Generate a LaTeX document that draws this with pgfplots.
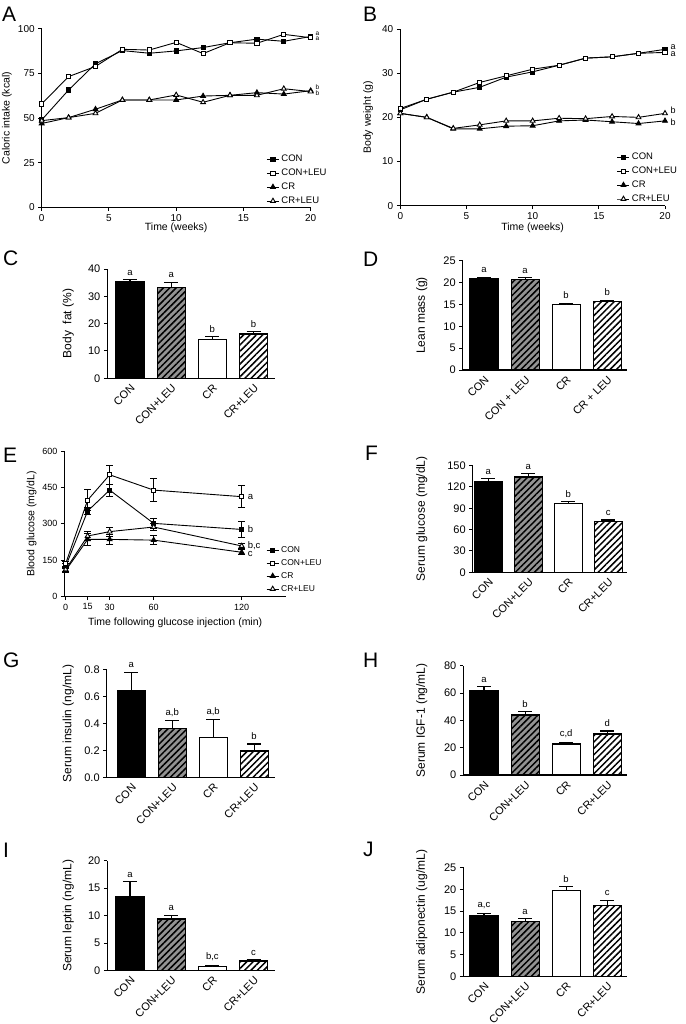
\documentclass[border=0pt]{standalone}
\usepackage{pgfplots}
\pgfplotsset{compat=1.18}
\usepackage{fontspec}
\setmainfont{Liberation Sans}
\usetikzlibrary{patterns.meta}
\newcommand{\fs}[1]{\fontsize{#1}{#1}\selectfont}
\pgfplotsset{
  gp/.style={scale only axis, axis lines=left, axis line style={line width=1.1pt,-},
    every tick/.style={black, line width=1pt}, tick align=outside, major tick length=3.5pt,
    /pgf/number format/assume math mode=true, /pgf/number format/1000 sep={},
    anchor=south west, clip=false},
  lineax/.style={gp, xmin=0, xmax=20, xtick={0,5,10,15,20}, ymin=0,
    tick label style={font=\fs{10}}, label style={font=\fs{10.5}},
    legend cell align=left,
    legend style={draw=none, fill=none, font=\fs{9.5}, anchor=north west, inner sep=0pt, row sep=1.8pt},
    legend image code/.code={\draw[mark repeat=2,mark phase=2,##1] plot coordinates {(0pt,0pt) (6pt,0pt) (12pt,0pt)};}},
  barax/.style={gp, ymin=0, xtick={0,1,2,3}, xtick style={draw=none},
    tick label style={font=\fs{11}}, label style={font=\fs{12}},
    xticklabels={CON,CON+LEU,CR,CR+LEU},
    xticklabel style={rotate=45, anchor=north east, inner sep=1pt}},
  con/.style={black, line width=0.9pt, mark=square*, mark size=2.1pt, mark options={solid, fill=black}},
  conleu/.style={black, line width=0.9pt, mark=square*, mark size=2.1pt, mark options={solid, fill=white}},
  cr/.style={black, line width=0.9pt, mark=triangle*, mark size=2.8pt, mark options={solid, fill=black}},
  crleu/.style={black, line width=0.9pt, mark=triangle*, mark size=2.8pt, mark options={solid, fill=white}},
  eb/.style={/pgfplots/error bars/y dir=both, /pgfplots/error bars/y explicit,
    /pgfplots/error bars/error bar style={line width=0.9pt},
    /pgfplots/error bars/error mark options={rotate=90, mark size=3.5pt, line width=0.9pt}},
  bb/.style={ybar, bar width=28pt, bar shift=0pt, draw=black, line width=1.1pt,
    /pgfplots/error bars/y dir=plus, /pgfplots/error bars/y explicit,
    /pgfplots/error bars/error bar style={line width=1.1pt},
    /pgfplots/error bars/error mark options={rotate=90, mark size=7pt, line width=1.1pt}},
  b1/.style={bb, fill=black},
  b2/.style={bb, preaction={fill=gray!85}, pattern={Lines[angle=45,distance=4.5pt,line width=1.5pt]}, pattern color=black},
  b3/.style={bb, fill=white},
  b4/.style={bb, preaction={fill=white}, pattern={Lines[angle=45,distance=4.5pt,line width=1.5pt]}, pattern color=black},
}
\tikzset{sig/.style={anchor=south, font=\fs{9.5}, inner sep=0pt, yshift=4pt},
  panel/.style={anchor=base west, font=\fs{21}, inner sep=0pt}}
\begin{document}
\begin{tikzpicture}
\useasboundingbox (0,0) rectangle (685pt,-1024pt);
% ---------------- A
\begin{axis}[lineax, at={(41.7pt,-207.3pt)}, width=269pt, height=178.3pt, ymax=100, ytick={0,25,50,75,100},
  ylabel={Caloric intake (kcal)}, xlabel={Time (weeks)},
  ylabel style={at={(axis description cs:-0.129,0.5)},anchor=center},
  xlabel style={at={(axis description cs:0.5,-0.116)},anchor=center},
  legend style={at={(0.835,0.305)}}]
\addplot[con] coordinates {(0,49) (2,65.8) (4,80.5) (6,87.9) (8,86.4) (10,87.7) (12,89.6) (14,92.3) (16,94.3) (18,93.1) (20,95.8)};
\addplot[conleu] coordinates {(0,58) (2,73.3) (4,79) (6,88.6) (8,88.2) (10,92.5) (12,86.2) (14,92.3) (16,92) (18,97) (20,95.1)};
\addplot[cr] coordinates {(0,47) (2,50.3) (4,55) (6,60.2) (8,60.2) (10,60.2) (12,62.4) (14,62.8) (16,64.3) (18,63.5) (20,65.4)};
\addplot[crleu] coordinates {(0,48.6) (2,50.3) (4,52.7) (6,60.2) (8,60.2) (10,63) (12,58.9) (14,62.8) (16,62.8) (18,66.5) (20,64.9)};
\legend{CON,CON+LEU,CR,CR+LEU}
\node[font=\fs{6.5}, anchor=west, inner sep=0pt] at (axis cs:20.35,97.3) {a};
\node[font=\fs{6.5}, anchor=west, inner sep=0pt] at (axis cs:20.35,94.3) {a};
\node[font=\fs{6.5}, anchor=west, inner sep=0pt] at (axis cs:20.35,67.3) {b};
\node[font=\fs{6.5}, anchor=west, inner sep=0pt] at (axis cs:20.35,64.0) {b};
\end{axis}
% ---------------- B
\begin{axis}[lineax, at={(400.3pt,-205.7pt)}, width=264.7pt, height=176.7pt, ymax=40, ytick={0,10,20,30,40},
  ylabel={Body weight (g)}, xlabel={Time (weeks)},
  ylabel style={at={(axis description cs:-0.121,0.5)},anchor=center},
  xlabel style={at={(axis description cs:0.5,-0.126)},anchor=center},
  legend style={at={(0.818,0.31)}}]
\addplot[con] coordinates {(0,21.7) (2,24.1) (4,25.7) (6,26.8) (8,29.1) (10,30.3) (12,31.8) (14,33.4) (16,33.7) (18,34.5) (20,35.4)};
\addplot[conleu] coordinates {(0,22.0) (2,24.1) (4,25.7) (6,27.9) (8,29.4) (10,30.9) (12,31.8) (14,33.4) (16,33.7) (18,34.5) (20,34.7)};
\addplot[cr] coordinates {(0,20.9) (2,20.0) (4,17.4) (6,17.4) (8,18.0) (10,18.1) (12,19.2) (14,19.4) (16,19.0) (18,18.6) (20,19.2)};
\addplot[crleu] coordinates {(0,20.9) (2,20.0) (4,17.5) (6,18.3) (8,19.2) (10,19.2) (12,19.8) (14,19.7) (16,20.2) (18,20.0) (20,20.9)};
\legend{CON,CON+LEU,CR,CR+LEU}
\node[font=\fs{9}, anchor=west, inner sep=0pt] at (axis cs:20.4,36.0) {a};
\node[font=\fs{9}, anchor=west, inner sep=0pt] at (axis cs:20.4,34.3) {a};
\node[font=\fs{9}, anchor=west, inner sep=0pt] at (axis cs:20.4,21.5) {b};
\node[font=\fs{9}, anchor=west, inner sep=0pt] at (axis cs:20.4,18.9) {b};
\end{axis}
% ---------------- C
\begin{axis}[barax, at={(107.3pt,-378.3pt)}, width=167.7pt, height=109.3pt, xmin=-0.55, xmax=3.52,
  ymax=40, ytick={0,10,20,30,40}, ylabel={Body\ \ fat (\%)},
  ylabel style={at={(axis description cs:-0.233,0.5)},anchor=center}]
\addplot[b1] coordinates {(0,35.4) +- (0,0.8)};
\addplot[b2] coordinates {(1,33.2) +- (0,2.0)};
\addplot[b3] coordinates {(2,14.3) +- (0,0.9)};
\addplot[b4] coordinates {(3,16.2) +- (0,0.8)};
\node[sig] at (axis cs:0,36.2) {a};
\node[sig] at (axis cs:1,35.2) {a};
\node[sig] at (axis cs:2,15.2) {b};
\node[sig] at (axis cs:3,17.0) {b};
\end{axis}
% ---------------- D
\begin{axis}[barax, at={(462.7pt,-370pt)}, width=164.6pt, height=109.3pt, xmin=-0.519, xmax=3.49,
  ymax=25, ytick={0,5,10,15,20,25}, ylabel={Lean mass (g)},
  xticklabels={CON,CON + LEU,CR,CR + LEU},
  ylabel style={at={(axis description cs:-0.249,0.5)},anchor=center}]
\addplot[b1] coordinates {(0,20.9) +- (0,0.35)};
\addplot[b2] coordinates {(1,20.8) +- (0,0.3)};
\addplot[b3] coordinates {(2,15.0) +- (0,0.3)};
\addplot[b4] coordinates {(3,15.7) +- (0,0.25)};
\node[sig] at (axis cs:0,21.25) {a};
\node[sig] at (axis cs:1,21.1) {a};
\node[sig] at (axis cs:2,15.3) {b};
\node[sig] at (axis cs:3,15.95) {b};
\end{axis}
% ---------------- E
\begin{axis}[gp, at={(64.3pt,-596.7pt)}, width=221.7pt, height=145.7pt, xmin=-0.93, xmax=150.2,
  ymin=0, ymax=600, xtick={0,15,30,60,120}, ytick={0,150,300,450,600},
  tick label style={font=\fs{9}}, label style={font=\fs{10.5}},
  ylabel={Blood glucose (mg/dL)}, xlabel={Time following glucose injection (min)},
  ylabel style={at={(axis description cs:-0.147,0.5)},anchor=center},
  xlabel style={at={(axis description cs:0.5,-0.18)},anchor=center},
  legend cell align=left,
  legend style={draw=none, fill=none, font=\fs{8.5}, anchor=north west, inner sep=0pt, row sep=1.5pt, at={(0.91,0.36)}},
  legend image code/.code={\draw[mark repeat=2,mark phase=2,#1] plot coordinates {(0pt,0pt) (6pt,0pt) (12pt,0pt)};}]
\addplot[con, eb] coordinates {(0,125) +- (0,10) (15,353) +- (0,15) (30,439) +- (0,25) (60,302) +- (0,20) (120,277) +- (0,34)};
\addplot[conleu, eb] coordinates {(0,136) +- (0,10) (15,398) +- (0,42) (30,502) +- (0,40) (60,439) +- (0,47) (120,412) +- (0,46)};
\addplot[cr, eb] coordinates {(0,108) +- (0,8) (15,236) +- (0,25) (30,236) +- (0,20) (60,233) +- (0,18) (120,183) +- (0,10)};
\addplot[crleu, eb] coordinates {(0,112) +- (0,8) (15,250) +- (0,17) (30,268) +- (0,18) (60,287) +- (0,15) (120,209) +- (0,10)};
\legend{CON,CON+LEU,CR,CR+LEU}
\node[font=\fs{9.5}, anchor=west, inner sep=0pt] at (axis cs:124,412) {a};
\node[font=\fs{9.5}, anchor=west, inner sep=0pt] at (axis cs:124,277) {b};
\node[font=\fs{9.5}, anchor=west, inner sep=0pt] at (axis cs:124,211) {b,c};
\node[font=\fs{9.5}, anchor=west, inner sep=0pt] at (axis cs:124,176) {c};
\end{axis}
% ---------------- F
\begin{axis}[barax, at={(472.7pt,-572.3pt)}, width=154.6pt, height=106.7pt, xmin=-0.39, xmax=3.48,
  ymax=150, ytick={0,30,60,90,120,150}, ylabel={Serum glucose (mg/dL)},
  ylabel style={at={(axis description cs:-0.33,0.5)},anchor=center}]
\addplot[b1] coordinates {(0,127.5) +- (0,4.2)};
\addplot[b2] coordinates {(1,134) +- (0,4.3)};
\addplot[b3] coordinates {(2,97) +- (0,2.4)};
\addplot[b4] coordinates {(3,71.3) +- (0,2.3)};
\node[sig] at (axis cs:0,131.7) {a};
\node[sig] at (axis cs:1,138.3) {a};
\node[sig] at (axis cs:2,99.4) {b};
\node[sig] at (axis cs:3,73.6) {c};
\end{axis}
% ---------------- G
\begin{axis}[barax, at={(106.7pt,-777.7pt)}, width=168.3pt, height=108.3pt, xmin=-0.6, xmax=3.51,
  ymax=0.8, ytick={0,0.2,0.4,0.6,0.8},
  yticklabel style={/pgf/number format/.cd, fixed, fixed zerofill, precision=1},
  ylabel={Serum insulin (ng/mL)},
  ylabel style={at={(axis description cs:-0.228,0.5)},anchor=center}]
\addplot[b1] coordinates {(0,0.647) +- (0,0.133)};
\addplot[b2] coordinates {(1,0.362) +- (0,0.058)};
\addplot[b3] coordinates {(2,0.30) +- (0,0.13)};
\addplot[b4] coordinates {(3,0.197) +- (0,0.052)};
\node[sig] at (axis cs:0,0.78) {a};
\node[sig] at (axis cs:1,0.42) {a,b};
\node[sig] at (axis cs:2,0.43) {a,b};
\node[sig] at (axis cs:3,0.249) {b};
\end{axis}
% ---------------- H
\begin{axis}[barax, at={(463.3pt,-775pt)}, width=164pt, height=109.3pt, xmin=-0.504, xmax=3.49,
  ymax=80, ytick={0,20,40,60,80}, ylabel={Serum IGF-1 (ng/mL)},
  ylabel style={at={(axis description cs:-0.254,0.5)},anchor=center}]
\addplot[b1] coordinates {(0,61.5) +- (0,3.1)};
\addplot[b2] coordinates {(1,43.9) +- (0,2.4)};
\addplot[b3] coordinates {(2,22.7) +- (0,1.2)};
\addplot[b4] coordinates {(3,30) +- (0,2.2)};
\node[sig] at (axis cs:0,64.6) {a};
\node[sig] at (axis cs:1,46.3) {b};
\node[sig] at (axis cs:2,23.9) {c,d};
\node[sig] at (axis cs:3,32.2) {d};
\end{axis}
% ---------------- I
\begin{axis}[barax, at={(107.3pt,-970.7pt)}, width=167.7pt, height=110pt, xmin=-0.55, xmax=3.52,
  ymax=20, ytick={0,5,10,15,20}, ylabel={Serum leptin (ng/mL)},
  ylabel style={at={(axis description cs:-0.233,0.5)},anchor=center}]
\addplot[b1] coordinates {(0,13.45) +- (0,2.75)};
\addplot[b2] coordinates {(1,9.4) +- (0,0.7)};
\addplot[b3] coordinates {(2,0.79) +- (0,0.18)};
\addplot[b4] coordinates {(3,1.76) +- (0,0.24)};
\node[sig] at (axis cs:0,16.2) {a};
\node[sig] at (axis cs:1,10.1) {a};
\node[sig] at (axis cs:2,0.97) {b,c};
\node[sig] at (axis cs:3,2.0) {c};
\end{axis}
% ---------------- J
\begin{axis}[barax, at={(463.3pt,-976.7pt)}, width=164pt, height=109.3pt, xmin=-0.504, xmax=3.49,
  ymax=25, ytick={0,5,10,15,20,25}, ylabel={Serum adiponectin (ug/mL)},
  ylabel style={at={(axis description cs:-0.254,0.5)},anchor=center}]
\addplot[b1] coordinates {(0,13.9) +- (0,0.6)};
\addplot[b2] coordinates {(1,12.7) +- (0,0.6)};
\addplot[b3] coordinates {(2,19.8) +- (0,0.8)};
\addplot[b4] coordinates {(3,16.2) +- (0,1.3)};
\node[sig] at (axis cs:0,14.5) {a,c};
\node[sig] at (axis cs:1,13.3) {a};
\node[sig] at (axis cs:2,20.6) {b};
\node[sig] at (axis cs:3,17.5) {c};
\end{axis}
% ---------------- panel letters
\node[panel] at (2pt,-22pt) {A};
\node[panel] at (363pt,-22pt) {B};
\node[panel] at (3pt,-265pt) {C};
\node[panel] at (363pt,-266pt) {D};
\node[panel] at (3pt,-462pt) {E};
\node[panel] at (365pt,-460pt) {F};
\node[panel] at (3pt,-667pt) {G};
\node[panel] at (363pt,-667pt) {H};
\node[panel] at (3pt,-857pt) {I};
\node[panel] at (363pt,-856pt) {J};
\end{tikzpicture}
\end{document}
